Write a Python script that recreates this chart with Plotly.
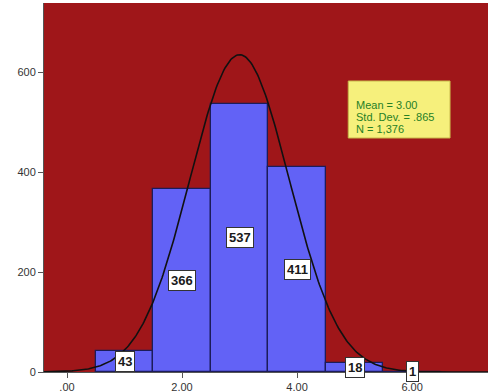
import numpy as np
import plotly.graph_objects as go

# Histogram bins (centres) and their frequencies
bin_centers = [1, 2, 3, 4, 5, 6]
frequencies = [43, 366, 537, 411, 18, 1]

# Summary statistics shown in the legend box
mean_val = 3.00
std_dev = 0.865
n_total = 1376
bin_width = 1.0

x_tick_vals = [0, 2, 4, 6]
x_tick_text = [".00", "2.00", "4.00", "6.00"]
y_tick_vals = [0, 200, 400, 600]

fig = go.Figure()

fig.add_trace(go.Bar(
    x=bin_centers, y=frequencies, width=bin_width,
    marker=dict(color="#6262f6", line=dict(color="#1c1c5a", width=1.3)),
    hoverinfo="skip",
))

# Normal curve scaled to counts
xs = np.linspace(-0.4, 7.4, 400)
ys = n_total * bin_width / (std_dev * np.sqrt(2 * np.pi)) * np.exp(-0.5 * ((xs - mean_val) / std_dev) ** 2)
fig.add_trace(go.Scatter(x=xs, y=ys, mode="lines",
                         line=dict(color="#111111", width=1.6), hoverinfo="skip"))

# Count labels at mid-height of each bar
for xc, f in zip(bin_centers, frequencies):
    fig.add_annotation(x=xc, y=f / 2, text=f"<b>{f}</b>", showarrow=False,
                       font=dict(family="Liberation Sans, Arial", size=13, color="#1a1a1a"),
                       bgcolor="white", bordercolor="#333333", borderwidth=1, borderpad=2)

# Statistics box
fig.add_shape(type="rect", xref="x", yref="y", x0=4.89, x1=6.66, y0=468, y1=582,
              fillcolor="#f6f07c", line=dict(color="#c8b84a", width=1), layer="above")
stat_lines = [
    f"Mean = {mean_val:.2f}",
    f"Std. Dev. = {str(round(std_dev, 3)).lstrip('0')}",
    f"N = {n_total:,}",
]
for i, line in enumerate(stat_lines):
    fig.add_annotation(x=4.99, y=535 - 24 * i, xanchor="left", yanchor="middle",
                       showarrow=False, align="left", text=line,
                       font=dict(family="Liberation Sans, Arial", size=11, color="#268026"))

fig.update_layout(
    width=488, height=392,
    margin=dict(l=44, r=0, t=3, b=20),
    paper_bgcolor="white", plot_bgcolor="#9f1619",
    showlegend=False, bargap=0,
    font=dict(family="Liberation Sans, Arial", size=11, color="#333333"),
)
fig.update_xaxes(range=[-0.4, 7.32], tickvals=x_tick_vals, ticktext=x_tick_text,
                 showgrid=False, zeroline=False, ticks="outside", ticklen=5,
                 tickcolor="#555555", showline=True, linecolor="#555555", linewidth=1)
fig.update_yaxes(range=[0, 738], tickvals=y_tick_vals, showgrid=False, zeroline=False,
                 ticks="outside", ticklen=5, tickcolor="#555555",
                 showline=True, linecolor="#555555", linewidth=1)

fig.write_html("out.html")
